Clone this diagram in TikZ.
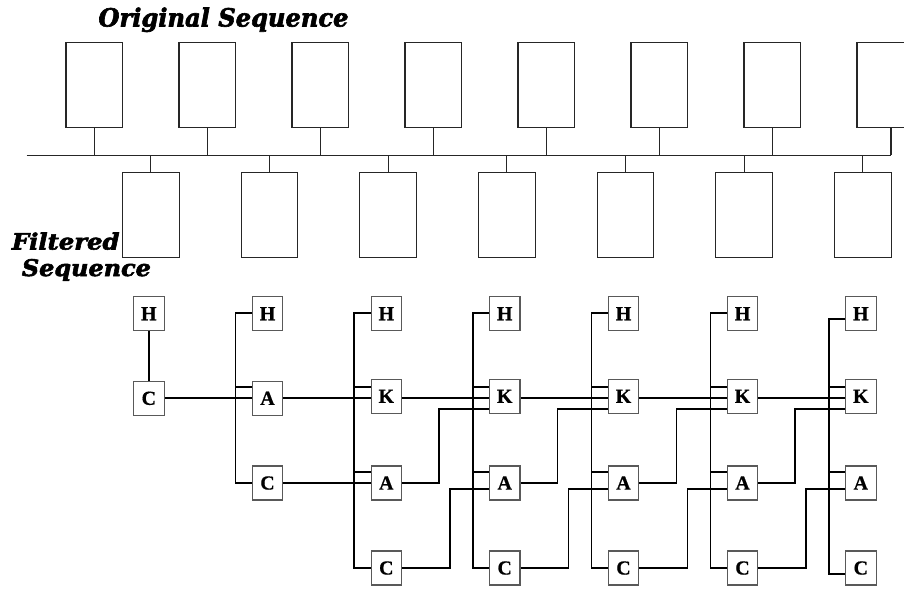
\documentclass[tikz,border=0pt]{standalone}
\usepackage{fontspec}
\setmainfont{Liberation Serif}[BoldFeatures={FakeBold=0.6}]
\newfontfamily\headfont{DejaVu Serif}[BoldItalicFeatures={FakeBold=2.5}]
\begin{document}
\begin{tikzpicture}[x=1pt,y=-1pt,
  seqbox/.style={draw=black!85,line width=1.1pt,minimum width=56.7pt,minimum height=85pt,inner sep=0pt},
  bar/.style={draw=black!85,line width=1.1pt},
  cell/.style={draw=black!65,line width=1.1pt,minimum width=30.5pt,minimum height=34pt,inner sep=0pt,
    font=\fontsize{20}{20}\selectfont\bfseries},
  wire/.style={draw=black,line width=1.8pt},
  heading/.style={anchor=base west,inner sep=0pt}]
\useasboundingbox (0,0) rectangle (904,590);
\clip (0,0) rectangle (904,590);

% headings
\node[heading] (ttl) at (98.3,26.5) {\resizebox{250pt}{19pt}{\headfont\bfseries\itshape Original Sequence}};
\node[heading] (flt) at (11.7,249.5) {\resizebox{107.6pt}{17pt}{\headfont\bfseries\itshape Filtered}};
\node[heading] (fsq) at (21.7,276) {\resizebox{129pt}{17pt}{\headfont\bfseries\itshape Sequence}};

% original sequence: common line with boxes above and below
\coordinate (hl) at (26.7,155.3);
\coordinate (hr) at (891,155.3);
\draw[bar] (hl) -- (hr);
\foreach \k in {0,...,6}{
  \node[seqbox] (T\k) at ({94.35+113*\k},84.8) {};
  \draw[bar] (T\k.south) -- (T\k.south |- hl);
  \node[seqbox] (B\k) at ({150.8+118.65*\k},214.8) {};
  \draw[bar] (B\k.north) -- (B\k.north |- hl);
}
\node[seqbox] (T7) at (885.35,84.8) {};
\draw[bar] ([xshift=5.65pt]T7.south) -- ([xshift=5.65pt]T7.south |- hr);

% filtered sequence: row levels of the wires
\coordinate (yH) at (0,313.3);
\coordinate (yHb) at (0,319.3);
\coordinate (yS2) at (0,387.3);
\coordinate (yM2) at (0,398.3);
\coordinate (yL2) at (0,409.3);
\coordinate (yS3) at (0,472);
\coordinate (yM3) at (0,483.3);
\coordinate (yL3) at (0,489);
\coordinate (yC) at (0,567.7);
\coordinate (yCb) at (0,574);

% cells
\node[cell] (H0) at (148.8,313.7) {H};
\node[cell] (C0) at (148.8,398.3) {C};
\node[cell] (H1) at (267.5,313.7) {H};
\node[cell] (A1) at (267.5,398.3) {A};
\node[cell] (C1) at (267.5,483) {C};
\foreach \j/\cx in {2/386.3,3/504.7,4/623.5,5/742.5,6/860.8}{
  \node[cell] (H\j) at (\cx,313.7) {H};
  \node[cell] (K\j) at (\cx,396.3) {K};
  \node[cell] (A\j) at (\cx,483) {A};
  \node[cell] (C\j) at (\cx,568) {C};
  \coordinate (bus\j) at ({\cx-32},0);
  \coordinate (jogA\j) at ({\cx-66},0);
  \coordinate (jogC\j) at ({\cx-55},0);
}
\coordinate (bus1) at (235.5,0);

% first two columns
\draw[wire] (H0.south) -- (C0.north);
\draw[wire] (C0.east) -- (A1.west |- C0.east);
\draw[wire] (H1.west |- yH) -- (bus1 |- yH) -- (bus1 |- yM3) -- (C1.west |- yM3);
\draw[wire] (bus1 |- yS2) -- (A1.west |- yS2);

% buses and taps of the later columns
\foreach \j in {2,...,5}{
  \draw[wire] (H\j.west |- yH) -- (bus\j |- yH) -- (bus\j |- yC) -- (C\j.west |- yC);
}
\draw[wire] (H6.west |- yHb) -- (bus6 |- yHb) -- (bus6 |- yCb) -- (C6.west |- yCb);
\foreach \j in {2,...,6}{
  \draw[wire] (bus\j |- yS2) -- (K\j.west |- yS2);
  \draw[wire] (bus\j |- yS3) -- (A\j.west |- yS3);
}

% links from one column to the next
\draw[wire] (A1.east |- yM2) -- (K2.west |- yM2);
\draw[wire] (C1.east |- yM3) -- (A2.west |- yM3);
\foreach \j [evaluate=\j as \p using int(\j-1)] in {3,...,6}{
  \draw[wire] (K\p.east |- yM2) -- (K\j.west |- yM2);
  \draw[wire] (A\p.east |- yM3) -- (jogA\j |- yM3) -- (jogA\j |- yL2) -- (K\j.west |- yL2);
  \draw[wire] (C\p.east |- yC) -- (jogC\j |- yC) -- (jogC\j |- yL3) -- (A\j.west |- yL3);
}
\end{tikzpicture}
\end{document}
